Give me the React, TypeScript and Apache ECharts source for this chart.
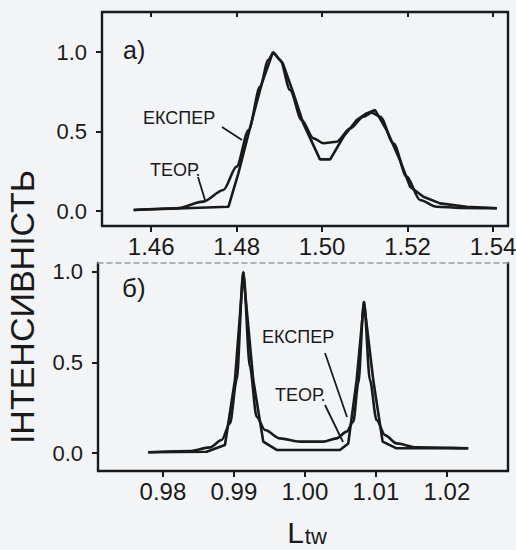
import React, { useEffect, useRef } from 'react';
import * as echarts from 'echarts';

// Tick values
const topTicks = [1.46, 1.48, 1.5, 1.52, 1.54];
const bottomTicks = [0.98, 0.99, 1.0, 1.01, 1.02];
const yTicks = [0, 0.5, 1.0];

// Panel а) — experimental (polyline) and theoretical (smooth)
const aExpX = [1.4559, 1.4781, 1.4804, 1.4832, 1.4859, 1.4885, 1.4908, 1.4933, 1.4956, 1.4995, 1.5019, 1.505, 1.5081, 1.5104, 1.5124, 1.5151, 1.5182, 1.5206, 1.5237, 1.5276, 1.5338, 1.5409];
const aExpY = [0.006, 0.027, 0.237, 0.53, 0.803, 1.0, 0.929, 0.74, 0.551, 0.325, 0.325, 0.467, 0.572, 0.614, 0.635, 0.509, 0.321, 0.153, 0.09, 0.048, 0.027, 0.017];
const aTheoX = [1.4559, 1.466, 1.4722, 1.4769, 1.48, 1.4828, 1.4855, 1.4874, 1.4886, 1.4902, 1.4925, 1.4952, 1.498, 1.5003, 1.5034, 1.5066, 1.5097, 1.5116, 1.5136, 1.5167, 1.5198, 1.5229, 1.5268, 1.5323, 1.5409];
const aTheoY = [0.006, 0.017, 0.059, 0.132, 0.279, 0.509, 0.782, 0.95, 0.995, 0.95, 0.761, 0.572, 0.457, 0.426, 0.436, 0.52, 0.593, 0.618, 0.593, 0.426, 0.216, 0.069, 0.027, 0.02, 0.017];

// Panel б)
const bExpX = [0.97793, 0.98615, 0.98873, 0.99014, 0.99131, 0.99272, 0.99413, 0.99601, 1.00493, 1.0061, 1.00728, 1.00831, 1.00962, 1.01094, 1.01291, 1.023];
const bExpY = [0.004, 0.007, 0.044, 0.403, 1.0, 0.403, 0.063, 0.017, 0.017, 0.053, 0.403, 0.836, 0.403, 0.063, 0.026, 0.026];
const bTheoX = [0.97793, 0.9838, 0.98662, 0.98826, 0.98944, 0.99038, 0.99131, 0.99225, 0.99319, 0.99437, 0.99648, 0.9993, 1.00258, 1.00446, 1.00587, 1.00681, 1.00751, 1.00831, 1.00915, 1.01009, 1.01127, 1.01291, 1.01573, 1.023];
const bTheoY = [0.004, 0.011, 0.031, 0.072, 0.164, 0.403, 1.0, 0.477, 0.201, 0.127, 0.081, 0.063, 0.063, 0.081, 0.118, 0.173, 0.385, 0.836, 0.403, 0.182, 0.099, 0.053, 0.031, 0.026];

const INK = '#1a1a1a';
const FONT = 'Liberation Sans, Arial, sans-serif';

const pairs = (xs: number[], ys: number[]) => xs.map((x, i) => [x, ys[i]]);

export default function App() {
  const ref = useRef<HTMLDivElement>(null);
  useEffect(() => {
    document.body.style.margin = '0';
    const chart = echarts.init(ref.current!, null, { renderer: 'svg' });
    const axisLine = { show: true, onZero: false, lineStyle: { color: INK, width: 2.4 } };
    const xLabel = (vals: number[]) => ({
      show: true,
      customValues: vals,
      formatter: (v: number) => v.toFixed(2),
      fontSize: 24,
      color: INK,
      fontFamily: FONT,
      margin: 8,
    });
    const yLabel = {
      show: true,
      customValues: yTicks,
      formatter: (v: number) => v.toFixed(1),
      fontSize: 22,
      color: INK,
      fontFamily: FONT,
      margin: 15,
    };
    const lineSeries = (data: number[][], xi: number, yi: number, smooth: boolean) => ({
      type: 'line',
      data,
      xAxisIndex: xi,
      yAxisIndex: yi,
      showSymbol: false,
      smooth: smooth ? 0.3 : false,
      smoothMonotone: 'x',
      lineStyle: { color: INK, width: 2.6 },
      silent: true,
    });
    chart.setOption({
      animation: false,
      backgroundColor: '#f3f4f6',
      grid: [
        { left: 102, right: 8, top: 12, height: 214, outerBoundsMode: 'none' },
        { left: 98, right: 8, top: 263, height: 208, outerBoundsMode: 'none' },
      ],
      xAxis: [
        {
          gridIndex: 0, type: 'value', position: 'bottom', min: 1.4485, max: 1.5435,
          axisLine, splitLine: { show: false },
          axisTick: { show: true, customValues: topTicks, length: 6, lineStyle: { color: INK, width: 2 } },
          axisLabel: xLabel(topTicks),
        },
        {
          gridIndex: 0, type: 'value', position: 'top', min: 1.4485, max: 1.5435,
          axisLine, splitLine: { show: false },
          axisTick: { show: true, inside: true, customValues: topTicks, length: 5, lineStyle: { color: INK, width: 2 } },
          axisLabel: { show: false },
        },
        {
          gridIndex: 1, type: 'value', position: 'bottom', min: 0.97085, max: 1.0286,
          axisLine, splitLine: { show: false },
          axisTick: { show: true, customValues: bottomTicks, length: 6, lineStyle: { color: INK, width: 2 } },
          axisLabel: xLabel(bottomTicks),
        },
        {
          gridIndex: 1, type: 'value', position: 'top', min: 0.97085, max: 1.0286,
          axisLine: { show: true, onZero: false, lineStyle: { color: '#9a9ca0', width: 1.5, type: [5, 4] } },
          splitLine: { show: false }, axisTick: { show: false }, axisLabel: { show: false },
        },
      ],
      yAxis: [
        {
          gridIndex: 0, type: 'value', position: 'left', min: -0.0943, max: 1.2516,
          axisLine, splitLine: { show: false },
          axisTick: { show: true, customValues: yTicks, length: 6, lineStyle: { color: INK, width: 2 } },
          axisLabel: yLabel,
        },
        {
          gridIndex: 0, type: 'value', position: 'right', min: -0.0943, max: 1.2516,
          axisLine, splitLine: { show: false }, axisTick: { show: false }, axisLabel: { show: false },
        },
        {
          gridIndex: 1, type: 'value', position: 'left', min: -0.0994, max: 1.0497,
          axisLine, splitLine: { show: false },
          axisTick: { show: true, customValues: yTicks, length: 6, lineStyle: { color: INK, width: 2 } },
          axisLabel: yLabel,
        },
        {
          gridIndex: 1, type: 'value', position: 'right', min: -0.0994, max: 1.0497,
          axisLine, splitLine: { show: false }, axisTick: { show: false }, axisLabel: { show: false },
        },
      ],
      series: [
        lineSeries(pairs(aExpX, aExpY), 0, 0, false),
        lineSeries(pairs(aTheoX, aTheoY), 0, 0, true),
        lineSeries(pairs(bExpX, bExpY), 2, 2, false),
        lineSeries(pairs(bTheoX, bTheoY), 2, 2, true),
      ],
      graphic: [
        {
          type: 'text', x: 22, y: 307, rotation: Math.PI / 2,
          style: { text: 'ІНТЕНСИВНІСТЬ', fontSize: 34, fontFamily: FONT, fill: INK, align: 'center', verticalAlign: 'middle' },
        },
        {
          type: 'text', x: 307, y: 530,
          style: {
            text: '{a|L}{b|tw}', align: 'center', verticalAlign: 'middle', fill: INK,
            rich: {
              a: { fontSize: 30, fontFamily: FONT, fill: INK, verticalAlign: 'bottom' },
              b: { fontSize: 22, fontFamily: FONT, fill: INK, verticalAlign: 'bottom', padding: [12, 0, 0, 1] },
            },
          },
        },
        { type: 'text', x: 123, y: 50, style: { text: 'а)', fontSize: 25, fontFamily: FONT, fill: INK, verticalAlign: 'middle' } },
        { type: 'text', x: 122, y: 288, style: { text: 'б)', fontSize: 26, fontFamily: FONT, fill: INK, verticalAlign: 'middle' } },
        { type: 'text', x: 143, y: 118, style: { text: 'ЕКСПЕР', fontSize: 18, fontFamily: FONT, fill: INK, verticalAlign: 'middle' } },
        { type: 'text', x: 150, y: 170, style: { text: 'ТЕОР.', fontSize: 18, fontFamily: FONT, fill: INK, verticalAlign: 'middle' } },
        { type: 'line', shape: { x1: 222, y1: 127, x2: 242, y2: 140 }, style: { stroke: INK, lineWidth: 1.8 } },
        { type: 'line', shape: { x1: 198, y1: 177, x2: 205, y2: 200 }, style: { stroke: INK, lineWidth: 1.8 } },
        { type: 'text', x: 262, y: 337, style: { text: 'ЕКСПЕР', fontSize: 18, fontFamily: FONT, fill: INK, verticalAlign: 'middle' } },
        { type: 'text', x: 275, y: 395, style: { text: 'ТЕОР.', fontSize: 18, fontFamily: FONT, fill: INK, verticalAlign: 'middle' } },
        { type: 'line', shape: { x1: 325, y1: 353, x2: 347, y2: 417 }, style: { stroke: INK, lineWidth: 1.8 } },
        { type: 'line', shape: { x1: 325, y1: 405, x2: 343, y2: 442 }, style: { stroke: INK, lineWidth: 1.8 } },
      ],
    });
    return () => chart.dispose();
  }, []);
  return <div ref={ref} style={{ position: 'fixed', left: 0, top: 0, width: 516, height: 550 }} />;
}
